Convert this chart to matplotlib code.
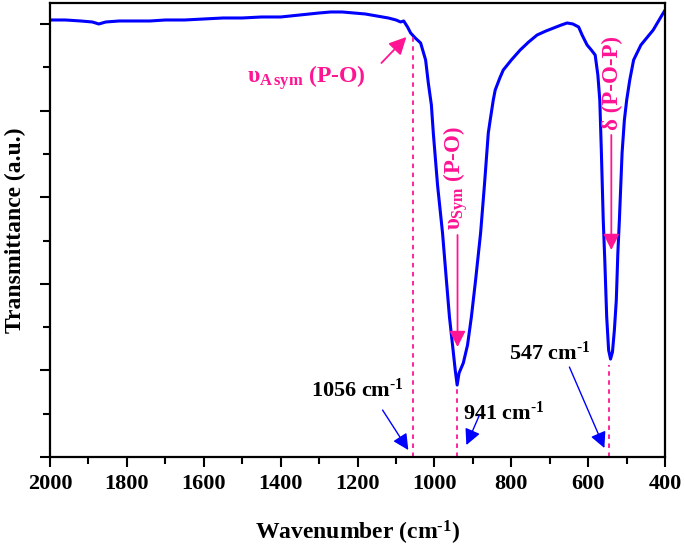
import numpy as np
import matplotlib
matplotlib.use("Agg")
import matplotlib.pyplot as plt

plt.rcParams['font.family'] = ['Liberation Serif', 'DejaVu Serif']
plt.rcParams['font.weight'] = 'bold'
plt.rcParams['mathtext.fontset'] = 'custom'
plt.rcParams['mathtext.rm'] = 'Liberation Serif:bold'
plt.rcParams['mathtext.it'] = 'Liberation Serif:bold'
plt.rcParams['mathtext.bf'] = 'Liberation Serif:bold'

# FTIR spectrum, transmittance in arbitrary units
wavenumber = [2000, 1960, 1920, 1890, 1873, 1855, 1820, 1780, 1740, 1700, 1650, 1600,
              1550, 1500, 1450, 1400, 1350, 1300, 1270, 1240, 1210, 1180, 1150, 1120,
              1100, 1088, 1080, 1070, 1062, 1050, 1036, 1023, 1016, 1008, 1003, 992,
              979, 969, 961, 953, 946, 941, 936, 925, 914, 904, 893, 880, 870, 860,
              855, 847, 842, 830, 821, 800, 777, 755, 733, 710, 690, 670, 655, 640,
              625, 616, 603, 592, 582, 575, 570, 566, 561, 557, 552, 547, 542, 537,
              532, 527, 523, 519, 512, 506, 500, 492, 482, 463, 431, 408, 400]
transmittance = [437, 437, 436, 435, 433, 435, 436, 436, 436, 437, 437, 438,
                 439, 439, 440, 440, 442, 444, 445, 445, 444, 443, 441, 439,
                 437, 435, 436, 430, 424, 419, 414, 397, 374, 352, 324, 272,
                 224, 177, 140, 112, 87, 72, 84, 94, 112, 140, 177, 224, 272, 324,
                 337, 357, 367, 379, 387, 397, 407, 415, 422, 426, 429, 432, 434, 433,
                 430, 422, 412, 407, 402, 382, 357, 307, 237, 197, 140, 107, 98, 105,
                 127, 157, 204, 237, 304, 337, 357, 377, 397, 412, 427, 442, 447]

peaks = [1056, 941, 545]
peak_tops = [420, 72, 92]
peak_labels = [r'1056 cm$^{\text{-1}}$', r'941 cm$^{\text{-1}}$', r'547 cm$^{\text{-1}}$']

pink = '#FF1493'
blue = '#0000FF'

fig = plt.figure(figsize=(6.85, 5.52), dpi=100)
ax = fig.add_axes([0.073, 0.172, 0.898, 0.8226])

ax.plot(wavenumber, transmittance, color=blue, lw=2.2)

ax.set_xlim(2000, 400)
ax.set_ylim(0, 454)
ax.set_xticks(np.arange(2000, 399, -200))
ax.set_xticks(np.arange(1900, 400, -200), minor=True)
ax.set_yticks(np.arange(6) * 86.6)
ax.set_yticks(np.arange(5) * 86.6 + 43.3, minor=True)
ax.set_yticklabels([])
ax.tick_params(which='major', direction='out', length=7, width=1.5, labelsize=16, pad=5)
ax.tick_params(which='minor', direction='out', length=5, width=1.5)
for s in ax.spines.values():
    s.set_linewidth(1.6)

ax.set_xlabel(r'Wavenumber (cm$^{\text{-1}}$)', fontsize=17, fontweight='bold', labelpad=18)
ax.set_ylabel('Transmittance (a.u.)', fontsize=17, fontweight='bold')
ax.yaxis.set_label_coords(-0.039, 0.5)

# dashed markers under the peaks
for p, top in zip(peaks, peak_tops):
    ax.plot([p, p], [0, top], color=pink, lw=1.3, ls=(0, (2.5, 2.5)))

# band assignments (pink)
ax.text(1487, 374, r'$\upsilon_{A\,sym}$ (P-O)', color=pink, fontsize=17,
        ha='left', va='baseline')
ax.annotate('', xy=(1073, 420), xytext=(1138, 394),
            arrowprops=dict(arrowstyle='-|>', color=pink, lw=1.3,
                            mutation_scale=26, shrinkA=0, shrinkB=0))
ax.text(944, 227, r'$\upsilon_{Sym}$ (P-O)', color=pink, fontsize=16.5,
        rotation=90, ha='center', va='bottom')
ax.annotate('', xy=(940, 110), xytext=(940, 222),
            arrowprops=dict(arrowstyle='-|>', color=pink, lw=1.3,
                            mutation_scale=24, shrinkA=0, shrinkB=0))
ax.text(538, 327, 'δ (P-O-P)', color=pink, fontsize=16.5,
        rotation=90, ha='center', va='bottom')
ax.annotate('', xy=(540, 207), xytext=(540, 322),
            arrowprops=dict(arrowstyle='-|>', color=pink, lw=1.3,
                            mutation_scale=24, shrinkA=0, shrinkB=0))

# peak positions (black text, blue arrows)
label_pos = [(1322, 60), (927, 37), (805, 97)]
arrow_from = [(1135, 47), (883, 42), (649, 90)]
arrow_to = [(1068, 7), (917, 12), (558, 9)]
for lab, pos, a0, a1 in zip(peak_labels, label_pos, arrow_from, arrow_to):
    ax.text(pos[0], pos[1], lab, fontsize=16, color='black', ha='left', va='baseline')
    ax.annotate('', xy=a1, xytext=a0,
                arrowprops=dict(arrowstyle='-|>', color=blue, lw=1.0,
                                mutation_scale=24, shrinkA=0, shrinkB=0))

fig.savefig('out.png', dpi=100)
